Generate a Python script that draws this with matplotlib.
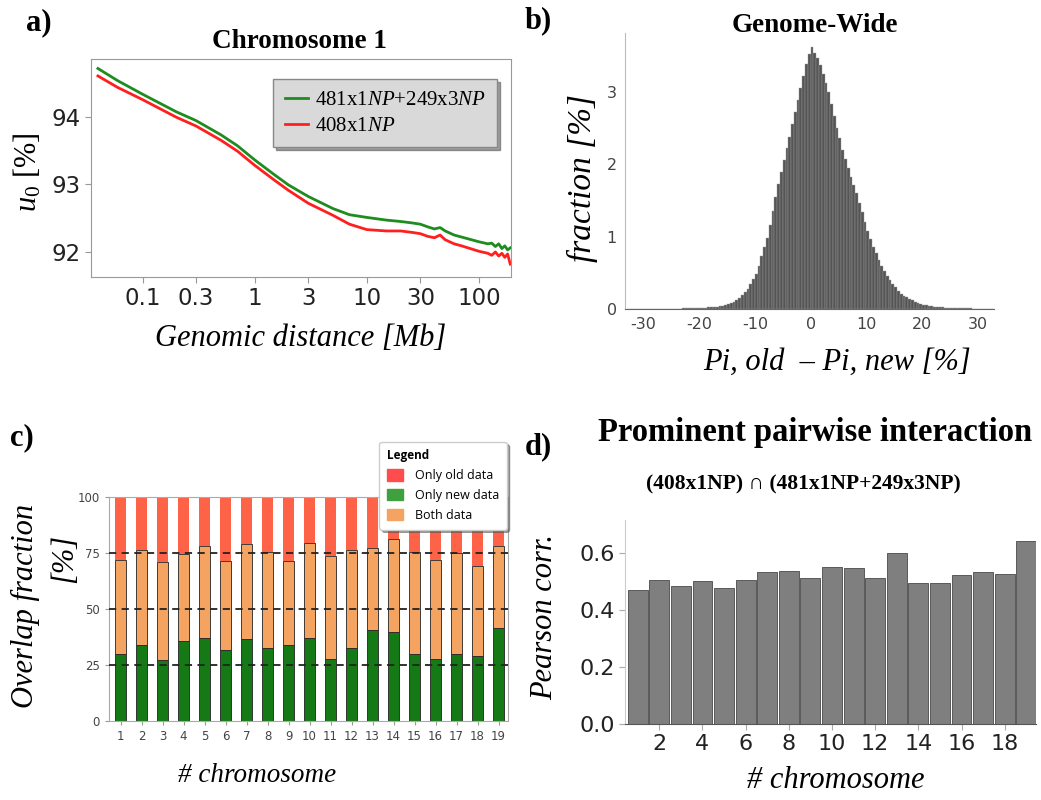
import numpy as np
import matplotlib
matplotlib.use('Agg')
import matplotlib.pyplot as plt
from matplotlib.patches import Patch

plt.rcParams['mathtext.fontset'] = 'custom'
plt.rcParams['mathtext.rm'] = 'Liberation Serif'
plt.rcParams['mathtext.it'] = 'Liberation Serif:italic'
plt.rcParams['mathtext.bf'] = 'Liberation Serif:bold'
plt.rcParams['axes.unicode_minus'] = False
plt.rcParams['font.family'] = ['DejaVu Sans']

SERIF = ['Liberation Serif', 'DejaVu Serif']

# ---------------- data ----------------
# panel a
dist_mb = [0.04, 0.06, 0.1, 0.2, 0.3, 0.5, 0.7, 1, 1.5, 2, 3, 5, 7, 10, 15, 20, 25, 30,
           35, 40, 45, 50, 60, 70, 100, 120, 130, 140, 150, 160, 170, 180, 190]
u0_new = [94.71, 94.53, 94.33, 94.07, 93.94, 93.73, 93.57, 93.36, 93.14, 92.99, 92.82, 92.64,
          92.55, 92.51, 92.47, 92.45, 92.43, 92.41, 92.37, 92.34, 92.36, 92.31, 92.25, 92.22,
          92.15, 92.12, 92.13, 92.08, 92.12, 92.05, 92.09, 92.03, 92.06]
u0_old = [94.60, 94.43, 94.25, 93.99, 93.86, 93.65, 93.49, 93.28, 93.06, 92.91, 92.72, 92.54,
          92.41, 92.33, 92.31, 92.31, 92.29, 92.27, 92.23, 92.21, 92.25, 92.18, 92.12, 92.09,
          92.01, 91.98, 91.95, 92.00, 91.94, 91.98, 91.92, 91.97, 91.82]
legend_a = ['481x1$NP$+249x3$NP$', '408x1$NP$']

# panel b : histogram of Pi,old - Pi,new (bin width 0.5, centres -32.75 ... 32.75)
bin_centres = np.arange(-32.75, 33.0, 0.5)
hist_left = [0.001, 0.001, 0.001, 0.001, 0.001, 0.001, 0.001, 0.002, 0.002,
             0.002, 0.002, 0.003, 0.003, 0.003, 0.004, 0.004, 0.005, 0.005, 0.006, 0.006,
             0.007, 0.008, 0.009, 0.010, 0.011, 0.013, 0.015, 0.017, 0.019, 0.022, 0.025,
             0.029, 0.033, 0.037, 0.045, 0.053, 0.064, 0.077, 0.09, 0.12, 0.15, 0.19, 0.23,
             0.27, 0.34, 0.41, 0.49, 0.60, 0.73, 0.86, 0.98, 1.16, 1.35, 1.54, 1.72, 1.89,
             2.06, 2.22, 2.38, 2.56, 2.72, 2.88, 3.05, 3.21, 3.38, 3.52]
hist_right = [3.62, 3.54, 3.46, 3.37, 3.25, 3.12, 2.99, 2.83, 2.66, 2.50, 2.36, 2.20, 2.07,
              1.94, 1.82, 1.71, 1.60, 1.47, 1.34, 1.20, 1.08, 0.96, 0.86, 0.77, 0.67, 0.60,
              0.52, 0.46, 0.40, 0.35, 0.30, 0.25, 0.21, 0.18, 0.16, 0.14, 0.12, 0.10, 0.085,
              0.075, 0.062, 0.052, 0.045, 0.038, 0.034, 0.030, 0.026, 0.023, 0.020, 0.018,
              0.016, 0.014, 0.012, 0.011, 0.010, 0.009, 0.008, 0.007, 0.006, 0.006, 0.005,
              0.004, 0.004, 0.003, 0.003, 0.003]
hist_vals = hist_left + hist_right

# panel c
chromosomes = list(range(1, 20))
only_new = [30.1, 34.1, 27.4, 35.6, 37.1, 31.9, 36.4, 32.6, 34.1, 37.1, 27.6, 32.5, 40.6,
            39.8, 30.1, 27.6, 29.8, 28.8, 41.6]
new_plus_both = [71.7, 76.3, 70.8, 74.4, 78.1, 71.4, 79.0, 75.3, 71.4, 79.3, 73.5, 76.2, 77.4,
                 81.2, 75.4, 71.7, 75.1, 69.4, 78.2]
legend_c = ['Only old data', 'Only new data', 'Both data']

# panel d
pearson = [0.472, 0.507, 0.484, 0.502, 0.478, 0.505, 0.532, 0.536, 0.513, 0.552, 0.547,
           0.513, 0.601, 0.496, 0.496, 0.522, 0.534, 0.525, 0.642]

# ---------------- figure ----------------
W, H = 1041, 800
fig = plt.figure(figsize=(W / 100, H / 100), dpi=100)


def ax_at(l, t, r, b):
    return fig.add_axes([l / W, 1 - b / H, (r - l) / W, (b - t) / H])


def ftext(x, y, s, **kw):
    fig.text(x / W, 1 - y / H, s, ha='center', va='center', **kw)


# ---- panel a ----
axa = ax_at(91, 59, 511, 277)
axa.plot(dist_mb, u0_new, color='#1e8c1e', lw=2, label=legend_a[0])
axa.plot(dist_mb, u0_old, color='#ff1f1f', lw=2, label=legend_a[1])
axa.set_xscale('log')
axa.set_xlim(0.0347, 193)
axa.set_ylim(91.63, 94.85)
axa.set_xticks([0.1, 0.3, 1, 3, 10, 30, 100])
axa.set_xticklabels(['0.1', '0.3', '1', '3', '10', '30', '100'])
axa.minorticks_off()
axa.set_yticks([92, 93, 94])
axa.tick_params(labelsize=16.5, color='#999999', length=4, labelcolor='#222222')
for s in axa.spines.values():
    s.set_color('#999999')
leg = axa.legend(loc='upper right', bbox_to_anchor=(0.967, 0.908), borderaxespad=0,
                 prop={'family': SERIF, 'size': 15}, facecolor='#d9d9d9', edgecolor='#888888',
                 framealpha=1, fancybox=False, shadow=True, handlelength=1.15,
                 handletextpad=0.3, borderpad=0.55, labelspacing=0.3)
ftext(299, 41, 'Chromosome 1', family=SERIF, weight='bold', fontsize=19.5)
ftext(301, 338, 'Genomic distance [Mb]', family=SERIF, style='italic', fontsize=22)
ftext(27, 172, r'$\mathit{u_0\ [\%]}$', fontsize=22, rotation=90)
ftext(39, 23, 'a)', family=SERIF, weight='bold', fontsize=22)

# ---- panel b ----
axb = ax_at(625, 33, 994, 309)
axb.bar(bin_centres, hist_vals, width=0.5, color='#555555', edgecolor='#9a9a9a', lw=0.3)
axb.set_xlim(-33.3, 32.9)
axb.set_ylim(0, 3.81)
axb.set_xticks([-30, -20, -10, 0, 10, 20, 30])
axb.set_yticks([0, 1, 2, 3])
axb.tick_params(labelsize=11.5, length=0, labelcolor='#444444', pad=6)
axb.spines['top'].set_visible(False)
axb.spines['right'].set_visible(False)
axb.spines['left'].set_color('#bbbbbb')
axb.spines['bottom'].set_color('#666666')
ftext(815, 25, 'Genome-Wide', family=SERIF, weight='bold', fontsize=19.5)
ftext(837, 362, 'Pi, old  – Pi, new [%]', family=SERIF, style='italic', fontsize=22)
ftext(582, 178, 'fraction [%]', family=SERIF, style='italic', fontsize=24, rotation=90)
ftext(538, 21, 'b)', family=SERIF, weight='bold', fontsize=22)

# ---- panel c ----
axc = ax_at(109, 497, 508, 721)
orange_h = [b - g for g, b in zip(only_new, new_plus_both)]
red_h = [100 - b for b in new_plus_both]
axc.bar(chromosomes, only_new, width=0.5, color='#157a15', edgecolor='#222222', lw=0.6)
axc.bar(chromosomes, orange_h, bottom=only_new, width=0.5, color='#f4a460',
        edgecolor='#222222', lw=0.6)
axc.bar(chromosomes, red_h, bottom=new_plus_both, width=0.5, color='#ff6347',
        edgecolor='#222222', lw=0.0)
for yv in [25, 50, 75]:
    axc.axhline(yv, color='#222222', lw=1.3, ls=(0, (4, 3)), zorder=3)
axc.set_xlim(0.45, 19.45)
axc.set_ylim(0, 100)
axc.set_xticks(chromosomes)
axc.set_yticks([0, 25, 50, 75, 100])
axc.tick_params(labelsize=8.5, labelcolor='#444444', color='#999999', length=3)
for s in axc.spines.values():
    s.set_color('#aaaaaa')
handles = [Patch(color='#ff4d4d'), Patch(color='#3fa03f'), Patch(color='#f4a460')]
legc = axc.legend(handles, legend_c, title='Legend', loc='upper right',
                  bbox_to_anchor=(0.997, 1.246), borderaxespad=0, fancybox=True, shadow=True,
                  framealpha=1, edgecolor='#cccccc', prop={'family': 'Open Sans', 'size': 9},
                  title_fontproperties={'family': 'Open Sans', 'weight': 'bold', 'size': 8.5},
                  handlelength=1.25, handleheight=1.0, labelspacing=0.55, handletextpad=1.0,
                  borderpad=0.6, alignment='left')
ftext(25, 606, 'Overlap fraction', family=SERIF, style='italic', fontsize=22, rotation=90)
ftext(65, 558, '[%]', family=SERIF, style='italic', fontsize=22, rotation=90)
ftext(257, 776, '# chromosome', family=SERIF, style='italic', fontsize=19.5)
ftext(22, 438, 'c)', family=SERIF, weight='bold', fontsize=22)

# ---- panel d ----
axd = ax_at(625, 520, 1036, 724)
axd.bar(chromosomes, pearson, width=0.92, color='#7f7f7f', edgecolor='#4a4a4a', lw=0.6)
axd.set_xlim(0.41, 19.45)
axd.set_ylim(0, 0.716)
axd.set_xticks(list(range(2, 19, 2)))
axd.set_yticks([0.0, 0.2, 0.4, 0.6])
axd.set_yticklabels(['0.0', '0.2', '0.4', '0.6'])
axd.tick_params(labelsize=16, labelcolor='#222222', color='#aaaaaa', length=4)
axd.spines['top'].set_visible(False)
axd.spines['right'].set_visible(False)
axd.spines['left'].set_color('#cccccc')
axd.spines['bottom'].set_color('#555555')
ftext(815, 433, 'Prominent pairwise interaction', family=SERIF, weight='bold', fontsize=23.5)
ftext(803, 484, '(408x1NP) ∩ (481x1NP+249x3NP)', family=SERIF, weight='bold', fontsize=15.5)
ftext(545, 617, 'Pearson corr.', family=SERIF, style='italic', fontsize=22, rotation=90)
ftext(836, 780, '# chromosome', family=SERIF, style='italic', fontsize=22)
ftext(538, 447, 'd)', family=SERIF, weight='bold', fontsize=22)

fig.savefig('out.png', dpi=100, facecolor='white')
